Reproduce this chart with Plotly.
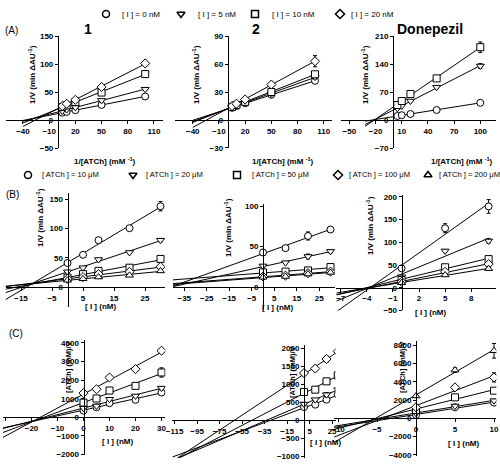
import numpy as np
import plotly.graph_objects as go

W, H = 500, 467
FONT = "Liberation Sans, Arial, sans-serif"

# ---------------- data ----------------
# Row A : Lineweaver-Burk, x = 1/[ATCh] (mM^-1)
inv_atch = [5, 10, 20, 50, 100]
i_names = ["[ I ] = 0 nM", "[ I ] = 5 nM", "[ I ] = 10 nM", "[ I ] = 20 nM"]
A1_y = [[13, 14.5, 17.5, 27, 42], [16, 18.5, 22.5, 35, 55],
        [23, 26, 32, 49, 82], [25, 29, 36, 59, 101]]
A1_e = [[0, 0, 0, 1, 2], [0, 0, 0, 1, 2], [0, 0, 0, 1, 2], [0, 0, 0, 1, 2]]
A2_y = [[13, 15, 18, 27, 42], [13.5, 15.5, 19, 28, 46],
        [14, 16, 19.5, 30, 49], [15, 17.5, 22, 38, 63]]
A2_e = [[0, 0, 0, 1, 2], [0, 0, 0, 1, 2], [0, 0, 0, 1, 2], [0, 0, 1, 2, 6]]
A3_y = [[10, 12, 15, 25, 43], [29, 35, 47.5, 82, 135], [37.5, 47.5, 65, 104, 182]]
A3_e = [[0, 0, 0, 1, 2], [0, 0, 2, 2, 6], [0, 0, 2, 3, 13]]

# Row B : Dixon, x = [I] (nM)
inh = [0, 5, 10, 20, 30]
atch_names = ["[ ATCh ] = 10 \u03bcM", "[ ATCh ] = 20 \u03bcM", "[ ATCh ] = 50 \u03bcM",
              "[ ATCh ] = 100 \u03bcM", "[ ATCh ] = 200 \u03bcM"]
B1_y = [[41, 55, 80, 100.5, 138], [26, 33, 47, 59, 80], [16, 22, 27.6, 33, 48],
        [14, 17, 22, 26, 34.5], [11.5, 14, 17, 20, 27.5]]
B1_e = [[2, 2, 3, 3, 8], [1, 2, 2, 2, 3], [1, 1, 2, 3, 4], [1, 1, 1, 2, 3], [1, 1, 1, 1, 2]]
inh_B2 = [0, 10, 20, 30]
B2_y = [[42.6, 48, 63, 71], [26, 30, 37.7, 44], [18, 19, 20.5, 24.6],
        [13, 14, 17, 19], [12, 13, 16, 18]]
B2_e = [[2, 2, 5, 3], [1, 1, 3, 2], [1, 1, 2, 1], [1, 1, 1, 1], [1, 1, 1, 1]]
inh_B3 = [0, 5, 10]
B3_y = [[42.6, 131, 179], [24, 81, 103], [17, 45, 63], [13, 35, 52], [11, 28, 42]]
B3_e = [[3, 10, 15], [2, 3, 5], [1, 2, 4], [1, 2, 3], [1, 2, 3]]

# Row C : Cornish-Bowden, y = [ATCh]/V
C1_y = [[360, 540, 760, 940, 1330], [490, 610, 970, 1150, 1570],
        [790, 1010, 1440, 1690, 2410], [1300, 1510, 2140, 2590, 3580]]
C1_e = [[20, 30, 40, 50, 80], [20, 30, 40, 50, 80], [30, 40, 60, 80, 250], [40, 50, 60, 80, 80]]
inh_C2 = [0, 10, 20, 30]
C2_y = [[361, 426, 565, 704], [444, 565, 704, 843], [778, 843, 1074, 1240],
        [1305, 1430, 1694, 1907]]
C2_e = [[20, 20, 40, 40], [20, 20, 60, 40], [30, 30, 60, 60], [40, 40, 80, 80]]
inh_C3 = [0, 5, 10]
C3_y = [[364, 1200, 1710], [545, 1345, 1927], [910, 2290, 3020],
        [1200, 3380, 4470], [2436, 5270, 7380]]
C3_e = [[50, 100, 150], [50, 100, 150], [80, 150, 250], [80, 200, 500], [150, 250, 800]]

SYM_I = ["circle", "triangle-down", "square", "diamond"]
SYM_ATCH = ["circle", "triangle-down", "square", "diamond", "triangle-up"]

fig = go.Figure()
layout = {}


def px2fx(px):
    return px / W


def py2fy(py):
    return 1 - py / H


def add_panel(n, px0, sx, xr, py0, sy, yr, xt0, xdt, yt0, ydt):
    xd = [px2fx(px0 + xr[0] * sx), px2fx(px0 + xr[1] * sx)]
    yd = [py2fy(py0 - yr[0] * sy), py2fy(py0 - yr[1] * sy)]
    common = dict(showgrid=False, zeroline=False, showline=True, linecolor="black",
                  linewidth=1, ticks="outside", ticklen=3, tickwidth=1, tickcolor="black",
                  tickfont=dict(family=FONT, size=8, color="black", weight="bold"),
                  anchor="free", tickmode="linear", automargin=False)
    layout[f"xaxis{n}"] = dict(domain=xd, range=xr, position=py2fy(py0), tick0=xt0, dtick=xdt, **common)
    layout[f"yaxis{n}"] = dict(domain=yd, range=yr, position=px2fx(px0), tick0=yt0, dtick=ydt, **common)


def add_series(n, xs, ys, es, syms, xstart, size=7):
    ax = dict(xaxis=f"x{n}", yaxis=f"y{n}")
    for y in ys:
        k, b = np.polyfit(xs, y, 1)
        xl = [xstart, max(xs)]
        fig.add_trace(go.Scatter(x=xl, y=[k * v + b for v in xl], mode="lines",
                                 line=dict(color="black", width=1), showlegend=False,
                                 hoverinfo="skip", **ax))
    for y, e, s in zip(ys, es, syms):
        fig.add_trace(go.Scatter(x=xs, y=y, mode="markers", showlegend=False,
                                 marker=dict(symbol=s, size=size, color="white",
                                             line=dict(color="black", width=1)),
                                 error_y=dict(type="data", array=e, color="black",
                                              thickness=1, width=2),
                                 **ax))


# Row A panels
add_panel(1, 57.9, 0.873, [-60, 120], 120, 0.56, [-50, 150], -40, 30, -50, 50)
add_series(1, inv_atch, A1_y, A1_e, SYM_I, -40)
add_panel(2, 227.7, 0.873, [-60, 120], 120, 0.933, [-30, 90], -40, 30, -30, 30)
add_series(2, inv_atch, A2_y, A2_e, SYM_I, -40)
add_panel(3, 393, 0.873, [-60, 118], 120, 0.4, [-70, 210], -50, 30, -70, 70)
add_series(3, inv_atch, A3_y, A3_e, ["circle", "triangle-down", "square"], -32)

# Row B panels
add_panel(4, 67.5, 3.1, [-20, 31.5], 287, 0.585, [-34, 160], -15, 10, 0, 50)
add_series(4, inh, B1_y, B1_e, SYM_ATCH, -20)
add_panel(5, 263, 2.25, [-40, 32], 287, 0.81, [-28, 102], -35, 10, 0, 50)
add_series(5, inh_B2, B2_y, B2_e, SYM_ATCH, -40)
add_panel(6, 401.6, 8.7, [-7.5, 10.8], 287.7, 0.454, [-50, 205], -7, 3, -50, 50)
add_series(6, inh_B3, B3_y, B3_e, SYM_ATCH, -7.5)

# Row C panels
add_panel(7, 83.5, 2.6, [-31, 31.5], 417.3, 0.0186, [-2050, 4150], -30, 10, -2000, 1000)
add_series(7, inh, C1_y, C1_e, SYM_I, -31)
add_panel(8, 304, 1.125, [-117, 28], 420, 0.036, [-1050, 2080], -115, 20, -1000, 500)
add_series(8, inh_C2, C2_y, C2_e, SYM_I, -117)
add_panel(9, 416, 7.8, [-10.5, 10.3], 418.3, 0.00915, [-4100, 8500], -10, 5, -4000, 2000)
add_series(9, inh_C3, C3_y, C3_e, SYM_ATCH, -10.5)

# legend overlay axis (pixel coordinates)
layout["xaxis10"] = dict(domain=[0, 1], range=[0, W], visible=False, anchor="y10", automargin=False)
layout["yaxis10"] = dict(domain=[0, 1], range=[H, 0], visible=False, anchor="x10", automargin=False)

ann = []


def text(px, py, s, size=8, bold=False, angle=0, xanchor="center"):
    ann.append(dict(x=px2fx(px), y=py2fy(py), xref="paper", yref="paper", text=s,
                    showarrow=False, textangle=angle, xanchor=xanchor, yanchor="middle",
                    font=dict(family=FONT, size=size, color="black",
                              weight="bold" if bold else "normal")))


def legend_item(px, py, sym, label, tx, size):
    fig.add_trace(go.Scatter(x=[px], y=[py], mode="markers", showlegend=False,
                             marker=dict(symbol=sym, size=7, color="white",
                                         line=dict(color="black", width=1.5)),
                             xaxis="x10", yaxis="y10", hoverinfo="skip"))
    text(tx, py, label, size=size, xanchor="left")


leg1_x = [106, 181, 255, 340]
leg1_tx = [120, 196, 270, 349]
for sx_, sym, lab, tx in zip(leg1_x, SYM_I, i_names, leg1_tx):
    legend_item(sx_, 14, sym, lab, tx, 8)

leg2_x = [28, 133, 237, 338, 428]
leg2_tx = [40, 144, 250, 347, 437]
for sx_, sym, lab, tx in zip(leg2_x, SYM_ATCH, atch_names, leg2_tx):
    legend_item(sx_, 175, sym, lab, tx, 7.6)

# panel titles & labels
text(3, 30, "(A)", size=10, xanchor="left")
text(4, 194, "(B)", size=10, xanchor="left")
text(7, 333, "(C)", size=10, xanchor="left")
text(88, 29, "1", size=14, bold=True)
text(256, 29, "2", size=14, bold=True)
text(430, 29, "Donepezil", size=14, bold=True)

ytA = "1/V (min \u0394AU<sup>-1</sup>)"
xtA = "1/[ATCh] (mM <sup>-1</sup>)"
for x in (32, 196, 365):
    text(x, 75, ytA, size=8, bold=True, angle=-90)
for x in (105, 283, 462):
    text(x, 161, xtA, size=8, bold=True)
for x, y in ((40, 218), (228, 228), (370, 226)):
    text(x, y, ytA, size=8, bold=True, angle=-90)
for x, y in ((100, 306), (277, 307), (430, 312)):
    text(x, y, "[ I ] (nM)", size=8, bold=True)
for x, y in ((68, 367), (292, 372), (402, 367)):
    text(x, y, "[ATCh] (mM)/V", size=7.5, bold=True, angle=-90)
text(117, 441, "[ I ] (nM)", size=8, bold=True)
text(308, 442, "[ I ] (nM)", size=8, bold=True, xanchor="left")
text(463, 443, "[ I ] (nM)", size=8, bold=True)

fig.update_layout(template="none", width=W, height=H, margin=dict(l=0, r=0, t=0, b=0, pad=0),
                  paper_bgcolor="white", plot_bgcolor="rgba(0,0,0,0)",
                  showlegend=False, annotations=ann, **layout)
fig.write_html("out.html", config={"displayModeBar": False},
               post_script="document.body.style.margin='0';document.body.style.padding='0';")
